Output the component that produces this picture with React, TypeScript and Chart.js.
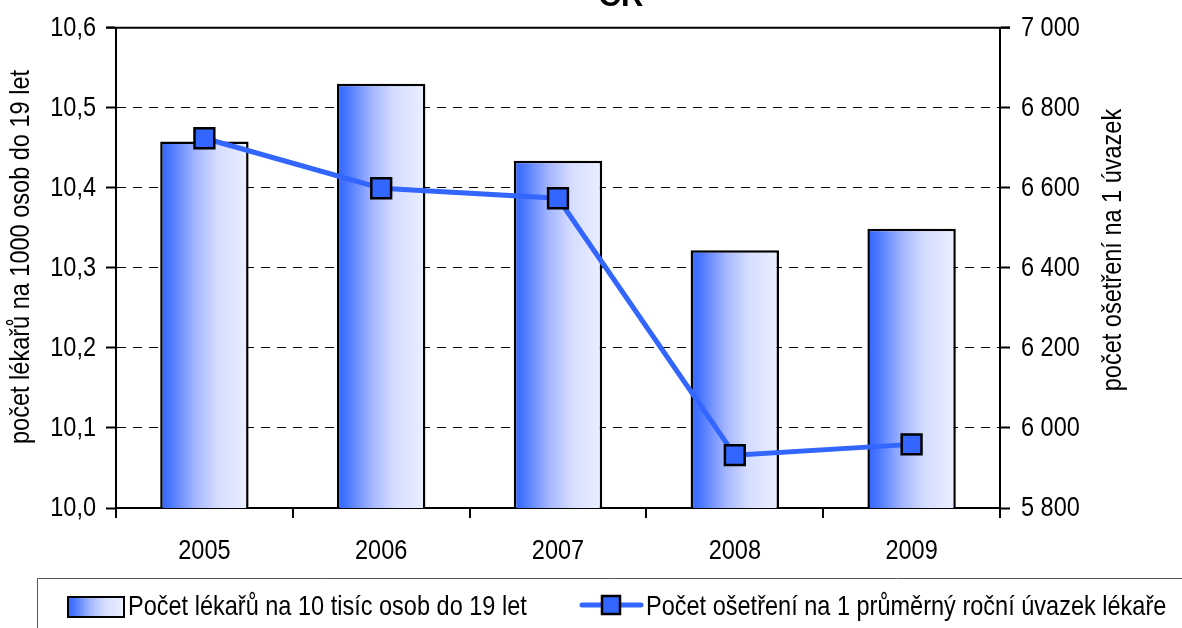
import React, { useEffect, useRef } from "react";
import { Chart, registerables } from "chart.js";

Chart.register(...registerables);

const chartTitle = "ČR";
const years = ["2005", "2006", "2007", "2008", "2009"];
const doctorsPer10k = [10.458, 10.53, 10.434, 10.322, 10.349];
const treatmentsPerFTE = [6724, 6599, 6574, 5932, 5959];
const leftAxisTitle = "počet lékařů na 1000 osob do 19 let";
const rightAxisTitle = "počet ošetření na 1 úvazek";
const barLabel = "Počet lékařů na 10 tisíc osob do 19 let";
const lineLabel = "Počet ošetření na 1 průměrný roční úvazek lékaře";
const leftRange = [10.0, 10.6];
const leftStep = 0.1;
const rightRange = [5800, 7000];
const rightStep = 200;

const FONT = "'Liberation Sans', Arial, sans-serif";
const NARROW = 0.84;
const FS = 28;
const BLUE = "#3366ff";

function fmtLeft(v: number) {
  return v.toFixed(1).replace(".", ",");
}
function fmtRight(v: number) {
  const th = Math.floor(v / 1000);
  const rest = String(Math.round(v % 1000)).padStart(3, "0");
  return `${th} ${rest}`;
}

function barGradient(ctx: CanvasRenderingContext2D, x0: number, x1: number) {
  const g = ctx.createLinearGradient(x0, 0, x1, 0);
  g.addColorStop(0, "#3366ff");
  g.addColorStop(0.1, "#4574ff");
  g.addColorStop(0.4, "#a5b6ff");
  g.addColorStop(0.65, "#d5ddff");
  g.addColorStop(1, "#ebefff");
  return g;
}

const decorPlugin = {
  id: "decor",
  afterDraw(chart: any) {
    const { ctx, chartArea } = chart;
    ctx.save();
    // top border of the plot
    ctx.strokeStyle = "#000";
    ctx.lineWidth = 2;
    ctx.beginPath();
    ctx.moveTo(chartArea.left - 10, chartArea.top);
    ctx.lineTo(chartArea.right + 10, chartArea.top);
    ctx.stroke();

    // title (partially clipped at top), drawn at normal width
    ctx.fillStyle = "#000";
    ctx.font = `bold 31px ${FONT}`;
    ctx.textAlign = "center";
    ctx.textBaseline = "alphabetic";
    const wide = (ctx as any).__origFillText;
    if (wide) wide(chartTitle, 621, 6);
    else ctx.fillText(chartTitle, 621, 6);

    // axis titles
    ctx.font = `${FS}px ${FONT}`;
    ctx.textBaseline = "middle";
    ctx.save();
    ctx.translate(21, 257);
    ctx.rotate(-Math.PI / 2);
    ctx.fillText(leftAxisTitle, 0, 0);
    ctx.restore();
    ctx.save();
    ctx.translate(1113, 250);
    ctx.rotate(-Math.PI / 2);
    ctx.fillText(rightAxisTitle, 0, 0);
    ctx.restore();

    // legend frame
    ctx.strokeStyle = "#555";
    ctx.lineWidth = 1;
    ctx.beginPath();
    ctx.moveTo(37.5, 640);
    ctx.lineTo(37.5, 578.5);
    ctx.lineTo(1190, 578.5);
    ctx.stroke();

    // bar swatch
    ctx.fillStyle = barGradient(ctx, 68, 124);
    ctx.fillRect(68, 597, 56, 20);
    ctx.strokeStyle = "#000";
    ctx.lineWidth = 2;
    ctx.strokeRect(68, 597, 56, 20);
    ctx.fillStyle = "#000";
    ctx.textAlign = "left";
    ctx.textBaseline = "middle";
    ctx.font = `${FS}px ${FONT}`;
    ctx.fillText(barLabel, 128, 607);

    // line swatch
    ctx.strokeStyle = BLUE;
    ctx.lineWidth = 5;
    ctx.lineCap = "round";
    ctx.beginPath();
    ctx.moveTo(582, 605);
    ctx.lineTo(641, 605);
    ctx.stroke();
    ctx.fillStyle = BLUE;
    ctx.fillRect(602, 596, 18, 18);
    ctx.strokeStyle = "#000";
    ctx.lineWidth = 2.5;
    ctx.strokeRect(602, 596, 18, 18);
    ctx.fillStyle = "#000";
    ctx.fillText(lineLabel, 646, 607);
    ctx.restore();
  },
};

export default function App() {
  const ref = useRef<HTMLCanvasElement | null>(null);

  useEffect(() => {
    if (!ref.current) return;
    const c2d = ref.current.getContext("2d") as any;
    // Emulate a narrow (condensed) face by scaling text horizontally around its anchor
    if (c2d && !c2d.__origFillText) {
      const orig = c2d.fillText.bind(c2d);
      c2d.__origFillText = orig;
      c2d.fillText = function (text: string, x: number, y: number) {
        c2d.save();
        c2d.translate(x, y);
        c2d.scale(NARROW, 1);
        orig(text, 0, 0);
        c2d.restore();
      };
    }
    const tickFont = { family: FONT, size: FS };
    const chart = new Chart(ref.current, {
      type: "bar",
      data: {
        labels: years,
        datasets: [
          {
            type: "line",
            label: lineLabel,
            data: treatmentsPerFTE,
            yAxisID: "y1",
            borderColor: BLUE,
            borderWidth: 5,
            pointStyle: "rect",
            pointRadius: 14,
            pointBackgroundColor: BLUE,
            pointBorderColor: "#000",
            pointBorderWidth: 2.5,
            tension: 0,
            order: 0,
          } as any,
          {
            type: "bar",
            label: barLabel,
            data: doctorsPer10k,
            yAxisID: "y",
            borderColor: "#000",
            borderWidth: 2.5,
            categoryPercentage: 0.5,
            barPercentage: 1,
            order: 1,
            backgroundColor: (c: any) => {
              const chart = c.chart;
              const xs = chart.scales?.x;
              if (!xs || c.dataIndex === undefined) return BLUE;
              const cx = xs.getPixelForValue(c.dataIndex);
              const w = (xs.width / years.length) * 0.5;
              if (!Number.isFinite(cx) || !Number.isFinite(w) || w <= 0) return BLUE;
              return barGradient(chart.ctx, cx - w / 2, cx + w / 2);
            },
          } as any,
        ],
      },
      options: {
        responsive: false,
        animation: false,
        layout: { padding: { top: 26, left: 0, right: 0, bottom: 0 } },
        plugins: {
          legend: { display: false },
          tooltip: { enabled: false },
          title: { display: false },
        },
        scales: {
          x: {
            type: "category",
            offset: true,
            grid: {
              display: true,
              offset: true,
              drawOnChartArea: false,
              drawTicks: true,
              tickLength: 10,
              color: "#000",
              lineWidth: 2,
            },
            border: { display: true, color: "#000", width: 2 },
            ticks: { color: "#000", font: tickFont, padding: 16 },
            afterFit: (s: any) => {
              s.height = 120;
            },
          },
          y: {
            type: "linear",
            position: "left",
            min: leftRange[0],
            max: leftRange[1],
            ticks: {
              stepSize: leftStep,
              color: "#000",
              font: tickFont,
              padding: 10,
              callback: (v: any) => fmtLeft(Number(v)),
            },
            grid: {
              drawOnChartArea: true,
              drawTicks: true,
              tickLength: 10,
              tickColor: "#000",
              tickWidth: 2,
              lineWidth: 1,
              color: (c: any) => {
                if (!c.tick) return "#000";
                const v = c.tick.value;
                if (Math.abs(v - leftRange[0]) < 1e-6 || Math.abs(v - leftRange[1]) < 1e-6) return "rgba(0,0,0,0)";
                return "#000";
              },
            },
            border: { display: true, color: "#000", width: 2, dash: [9, 7] },
            afterFit: (s: any) => {
              s.width = 116;
            },
          },
          y1: {
            type: "linear",
            position: "right",
            min: rightRange[0],
            max: rightRange[1],
            ticks: {
              stepSize: rightStep,
              color: "#000",
              font: tickFont,
              padding: 11,
              callback: (v: any) => fmtRight(Number(v)),
            },
            grid: {
              drawOnChartArea: false,
              drawTicks: true,
              tickLength: 10,
              tickColor: "#000",
              tickWidth: 2,
            },
            border: { display: true, color: "#000", width: 2 },
            afterFit: (s: any) => {
              s.width = 182;
            },
          },
        },
      } as any,
      plugins: [decorPlugin],
    });
    return () => chart.destroy();
  }, []);

  return (
    <div style={{ position: "absolute", left: 0, top: 0, width: 1182, height: 628, background: "#fff" }}>
      <canvas ref={ref} width={1182} height={628} style={{ display: "block" }} />
    </div>
  );
}
